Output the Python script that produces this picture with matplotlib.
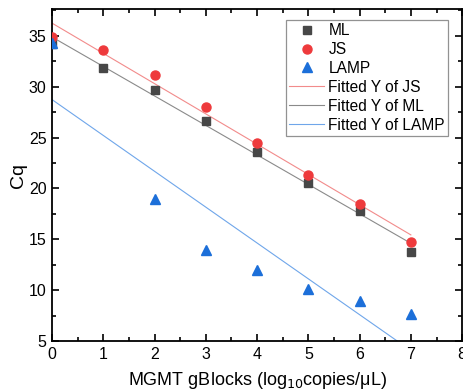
import numpy as np
import matplotlib
matplotlib.use("Agg")
import matplotlib.pyplot as plt
from matplotlib.ticker import MultipleLocator

plt.rcParams['font.family'] = ['Liberation Sans', 'DejaVu Sans']

x_ml = [0, 1, 2, 3, 4, 5, 6, 7]
y_ml = [34.2, 31.8, 29.7, 26.6, 23.6, 20.5, 17.8, 13.8]
x_js = [0, 1, 2, 3, 4, 5, 6, 7]
y_js = [34.9, 33.6, 31.2, 28.0, 24.5, 21.35, 18.45, 14.75]
x_lamp = [0, 2, 3, 4, 5, 6, 7]
y_lamp = [34.3, 19.0, 13.95, 11.95, 10.15, 8.95, 7.7]

c_ml, c_js, c_lamp = '#474747', '#ee3a3c', '#1c6fd9'
cf_ml, cf_js, cf_lamp = '#8a8a8a', '#f28b8b', '#6fa6ea'

fig = plt.figure(figsize=(4.64, 3.92), dpi=100)
ax = fig.add_axes([0.112, 0.130, 0.884, 0.846])

ax.plot(x_ml, y_ml, 's', color=c_ml, ms=6, label='ML', zorder=3)
ax.plot(x_js, y_js, 'o', color=c_js, ms=6.5, label='JS', zorder=3)
ax.plot(x_lamp, y_lamp, '^', color=c_lamp, ms=7, label='LAMP', zorder=3)

def fit_line(xs, ys):
    k, b = np.polyfit(xs, ys, 1)
    xx = np.array([min(xs), max(xs)], dtype=float)
    return xx, k * xx + b

for xs, ys, c, lab in [(x_js, y_js, cf_js, 'Fitted Y of JS'),
                       (x_ml, y_ml, cf_ml, 'Fitted Y of ML'),
                       (x_lamp, y_lamp, cf_lamp, 'Fitted Y of LAMP')]:
    xx, yy = fit_line(xs, ys)
    ax.plot(xx, yy, '-', color=c, lw=0.8, label=lab, zorder=2)

ax.set_xlim(0, 8)
ax.set_ylim(5, 37.6)
ax.xaxis.set_major_locator(MultipleLocator(1))
ax.xaxis.set_minor_locator(MultipleLocator(0.5))
ax.yaxis.set_major_locator(MultipleLocator(5))
ax.yaxis.set_minor_locator(MultipleLocator(2.5))
ax.tick_params(which='both', direction='in', top=True, right=True, width=1.2,
               labelsize=11.5, pad=4)
ax.tick_params(which='major', length=5)
ax.tick_params(which='minor', length=3)
for s in ax.spines.values():
    s.set_linewidth(1.3)

ax.set_xlabel('MGMT gBlocks (log$_{10}$copies/μL)', fontsize=13, labelpad=6)
ax.set_ylabel('Cq', fontsize=14, labelpad=1)

leg = ax.legend(loc='upper right', bbox_to_anchor=(0.966, 0.968), fontsize=11.2,
                frameon=True, fancybox=False, edgecolor='#777777',
                handlelength=2.25, handletextpad=0.28, borderpad=0.2,
                borderaxespad=0.0, labelspacing=0.25)
leg.get_frame().set_linewidth(0.9)

fig.savefig('out.png', dpi=100)
